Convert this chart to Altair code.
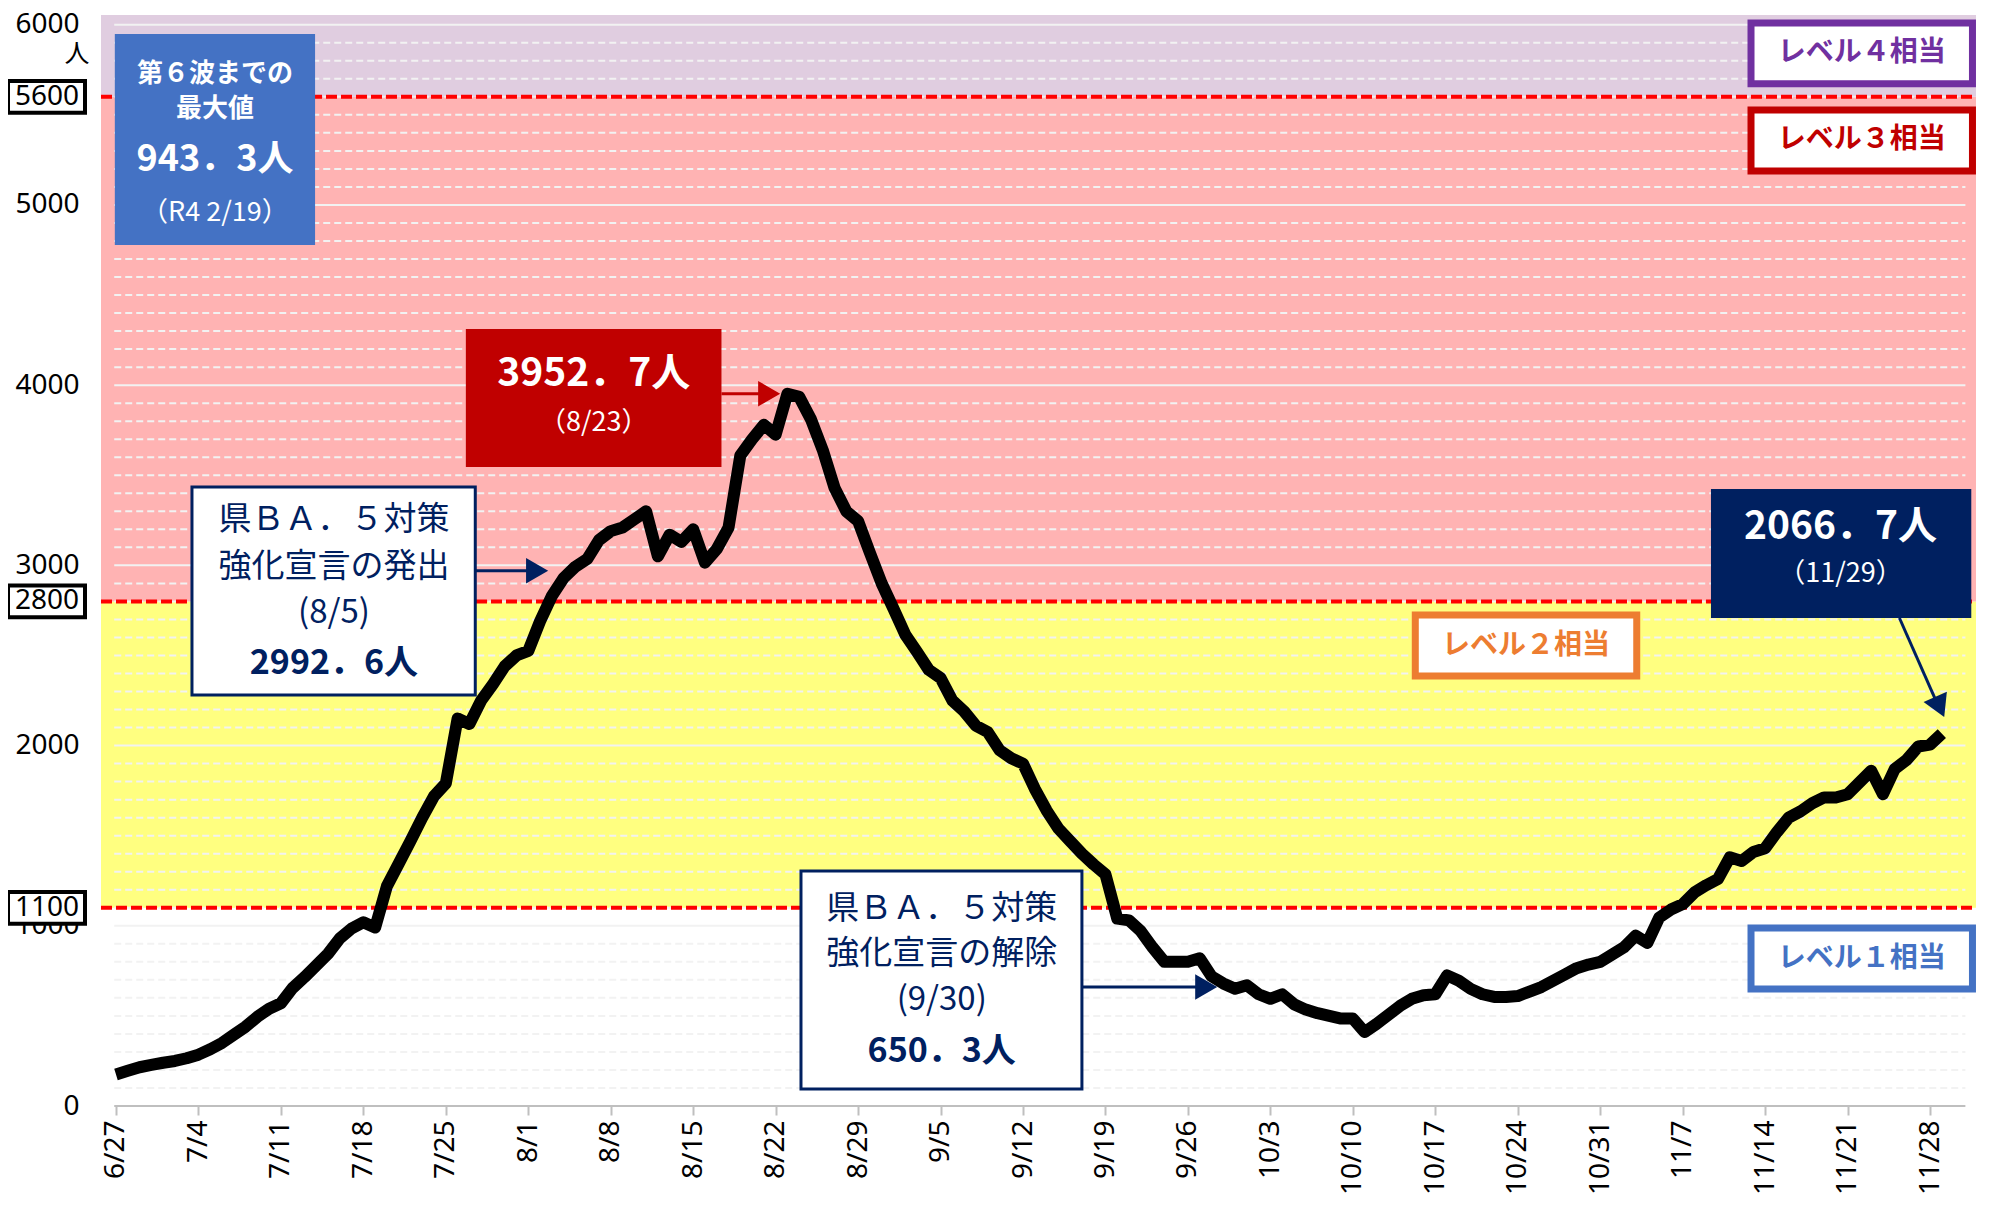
import json
import altair as alt
import pandas as pd

# ---------------- data ----------------
tick_labels = ["6/27", "7/4", "7/11", "7/18", "7/25", "8/1", "8/8", "8/15", "8/22",
               "8/29", "9/5", "9/12", "9/19", "9/26", "10/3", "10/10", "10/17",
               "10/24", "10/31", "11/7", "11/14", "11/21", "11/28"]

# 7-day average of new cases, one value per day from 6/27 (day 0) to 11/29 (day 155)
values = [
    175, 195, 215, 228, 240, 250, 265, 285, 315, 350,
    395, 440, 495, 540, 570, 655, 715, 780, 845, 930,
    985, 1020, 990, 1220, 1345, 1470, 1600, 1720, 1790, 2150,
    2120, 2250, 2340, 2440, 2500, 2525, 2690, 2830, 2930, 2992.6,
    3035, 3140, 3190, 3210, 3255, 3300, 3050, 3170, 3130, 3200,
    3015, 3090, 3210, 3610, 3700, 3780, 3725, 3952.7, 3935, 3810,
    3640, 3430, 3300, 3245, 3070, 2900, 2760, 2616, 2520, 2420,
    2375, 2250, 2190, 2110, 2075, 1975, 1930, 1900, 1760, 1640,
    1540, 1470, 1400, 1340, 1285, 1040, 1030, 970, 880, 800,
    800, 800, 820, 720, 680, 650.3, 670, 620, 595, 620,
    565, 535, 515, 500, 485, 485, 410, 455, 505, 555,
    595, 615, 620, 725, 695, 650, 620, 605, 605, 610,
    635, 660, 695, 730, 765, 785, 800, 840, 880, 945,
    905, 1045, 1090, 1120, 1185, 1225, 1260, 1380, 1360, 1410,
    1430, 1520, 1600, 1635, 1680, 1712, 1712, 1730, 1795, 1860,
    1730, 1870, 1920, 1995, 2005, 2066.7,
]
days = list(range(len(values)))

Y_TOP = 6054
band_lo = [0, 1100, 2800, 5600]
band_hi = [1100, 2800, 5600, Y_TOP]
band_colors = ["#FFFFFF", "#FFFF80", "#FFB3B3", "#E0CDE0"]

level_lines = [1100, 2800, 5600]
y_tick_values = [0, 1000, 2000, 3000, 4000, 5000, 6000]

NAVY = "#002060"
DARKRED = "#C00000"

# annotation boxes (in data units: day, persons)
box_x0 = [-0.1, 29.7, 6.45, 58.15, 135.4, 138.8, 138.8, 110.3, 138.8]
box_x1 = [16.9, 51.4, 30.5, 82.0, 157.5, 157.6, 157.6, 129.1, 157.6]
box_y0 = [4778, 3546, 2281, 94, 2708, 5672, 5189, 2386, 649]
box_y1 = [5949, 4312, 3435, 1304, 3424, 6010, 5527, 2725, 988]
box_fill = ["#4472C4", DARKRED, "#FFFFFF", "#FFFFFF", NAVY,
            "#FFFFFF", "#FFFFFF", "#FFFFFF", "#FFFFFF"]
box_stroke = ["#4472C4", DARKRED, NAVY, NAVY, NAVY,
              "#7030A0", DARKRED, "#ED7D31", "#4472C4"]
box_sw = [0, 0, 3, 3, 0, 7, 7, 7, 7]

# Japanese texts (bold)
jb_text = ["第６波までの", "最大値", "レベル４相当", "レベル３相当", "レベル２相当", "レベル１相当"]
jb_x = [8.4, 8.4, 148.2, 148.2, 119.7, 148.2]
jb_y = [5725, 5530, 5841, 5358, 2555, 818]
jb_color = ["#FFFFFF", "#FFFFFF", "#7030A0", DARKRED, "#ED7D31", "#4472C4"]
jb_size = [26, 26, 28, 28, 28, 28]

# Japanese texts (regular)
jr_text = ["県ＢＡ．５対策", "強化宣言の発出", "(8/5)", "県ＢＡ．５対策", "強化宣言の解除", "(9/30)"]
jr_x = [18.5, 18.5, 18.5, 70.1, 70.1, 70.1]
jr_y = [3252, 2991, 2736, 1093, 843, 588]
jr_color = [NAVY] * 6
jr_size = [33, 33, 33, 33, 33, 33]

# number texts
nb_text = ["943．3人", "3952．7人", "2992．6人", "650．3人", "2066．7人"]
nb_x = [8.4, 40.55, 18.5, 70.1, 146.4]
nb_y = [5250, 4062, 2453, 300, 3213]
nb_color = ["#FFFFFF", "#FFFFFF", NAVY, NAVY, "#FFFFFF"]
nb_size = [36, 39, 34, 34, 39]

nr_text = ["（R4 2/19）", "（8/23）", "（11/29）"]
nr_x = [8.4, 40.55, 146.4]
nr_y = [4956, 3790, 2952]
nr_color = ["#FFFFFF", "#FFFFFF", "#FFFFFF"]
nr_size = [27, 27, 27]

# arrows
ar_x0 = [51.4, 30.5, 82.0, 151.4]
ar_x1 = [55.8, 36.0, 93.0, 154.9]
ar_y0 = [3952.7, 2970, 660, 2708]
ar_y1 = [3952.7, 2970, 660, 2190]
ar_color = [DARKRED, NAVY, NAVY, NAVY]
head_x = [55.45, 35.75, 92.55, 154.82]
head_y = [3952.7, 2970, 660, 2214]
head_angle = [90, 90, 90, 156]

# ---------------- scales / axes ----------------
W, H = 1875, 1091
xs = alt.Scale(domain=[-1.273, 157.9], nice=False, zero=False)
ys = alt.Scale(domain=[0, Y_TOP], nice=False, zero=False)

x_axis = alt.Axis(
    values=[7 * i for i in range(len(tick_labels))],
    labelExpr=f"{json.dumps(tick_labels)}[round(datum.value / 7)]",
    labelAngle=270, labelFontSize=28, labelColor="#000000", labelFont="Noto Sans",
    labelPadding=5, domain=False, ticks=True, tickColor="#BFBFBF", tickWidth=2,
    tickSize=9, grid=False, title=None, labelOverlap=False)
y_axis = alt.Axis(
    values=y_tick_values, format="d", labelFontSize=28, labelColor="#000000",
    labelFont="Noto Sans", labelPadding=22, domain=False, ticks=False, grid=False,
    title=None)


def xq(field):
    return alt.X(f"{field}:Q", scale=xs, axis=x_axis)


def yq(field):
    return alt.Y(f"{field}:Q", scale=ys, axis=y_axis)


# ---------------- layers ----------------
bands = alt.Chart(pd.DataFrame({"lo": band_lo, "hi": band_hi, "color": band_colors})).mark_rect().encode(
    x=alt.value(0), x2=alt.value(W), y=yq("lo"), y2=alt.Y2("hi"),
    fill=alt.Fill("color:N", scale=None))

minor_v = [v for v in range(100, 6001, 100) if v % 1000 != 0]
major_v = list(range(1000, 6001, 1000))
grid_minor = alt.Chart(pd.DataFrame({"v": minor_v, "x0": -0.15, "x1": 157.0})).mark_rule(
    color="#F2F2F2", strokeWidth=2, strokeDash=[7, 4]).encode(
    x=xq("x0"), x2=alt.X2("x1"), y=yq("v"))
grid_major = alt.Chart(pd.DataFrame({"v": major_v, "x0": -0.15, "x1": 157.0})).mark_rule(
    color="#F2F2F2", strokeWidth=2).encode(
    x=xq("x0"), x2=alt.X2("x1"), y=yq("v"))

red_lines = alt.Chart(pd.DataFrame({"v": level_lines})).mark_rule(
    color="#FF0000", strokeWidth=4, strokeDash=[11, 4]).encode(
    x=alt.value(0), x2=alt.value(W), y=yq("v"))

baseline = alt.Chart(pd.DataFrame({"v": [0], "x0": [-0.15], "x1": [157.0]})).mark_rule(
    color="#BFBFBF", strokeWidth=2).encode(x=xq("x0"), x2=alt.X2("x1"), y=yq("v"))

line = alt.Chart(pd.DataFrame({"day": days, "value": values})).mark_line(
    color="#000000", strokeWidth=12, strokeJoin="round", strokeCap="butt").encode(
    x=xq("day"), y=yq("value"))

boxes = alt.Chart(pd.DataFrame({
    "x0": box_x0, "x1": box_x1, "y0": box_y0, "y1": box_y1,
    "fill": box_fill, "stroke": box_stroke, "sw": box_sw})).mark_rect().encode(
    x=xq("x0"), x2=alt.X2("x1"), y=yq("y0"), y2=alt.Y2("y1"),
    fill=alt.Fill("fill:N", scale=None), stroke=alt.Stroke("stroke:N", scale=None),
    strokeWidth=alt.StrokeWidth("sw:Q", scale=None))


def text_layer(texts, xv, yv, colors, sizes, font, weight):
    df = pd.DataFrame({"t": texts, "x": xv, "y": yv, "c": colors, "s": sizes})
    return alt.Chart(df).mark_text(font=font, fontWeight=weight, align="center",
                                   baseline="middle").encode(
        x=xq("x"), y=yq("y"), text="t:N",
        color=alt.Color("c:N", scale=None), size=alt.Size("s:Q", scale=None))


CJK = "Noto Sans CJK JP"
t_jb = text_layer(jb_text, jb_x, jb_y, jb_color, jb_size, CJK, "bold")
t_jr = text_layer(jr_text, jr_x, jr_y, jr_color, jr_size, CJK, "normal")
t_nb = text_layer(nb_text, nb_x, nb_y, nb_color, nb_size, CJK, "bold")
t_nr = text_layer(nr_text, nr_x, nr_y, nr_color, nr_size, CJK, "normal")

arrows = alt.Chart(pd.DataFrame({
    "x0": ar_x0, "x1": ar_x1, "y0": ar_y0, "y1": ar_y1, "c": ar_color})).mark_rule(
    strokeWidth=3).encode(
    x=xq("x0"), x2=alt.X2("x1"), y=yq("y0"), y2=alt.Y2("y1"),
    color=alt.Color("c:N", scale=None))
heads = alt.Chart(pd.DataFrame({
    "x": head_x, "y": head_y, "a": head_angle, "c": ar_color})).mark_point(
    shape="triangle-up", filled=True, opacity=1, size=650, strokeWidth=0).encode(
    x=xq("x"), y=yq("y"), angle=alt.Angle("a:Q", scale=None),
    color=alt.Color("c:N", scale=None))

# boxed threshold labels on the y axis
lvl_df = pd.DataFrame({"v": level_lines, "lo": [v - 88 for v in level_lines],
                       "hi": [v + 88 for v in level_lines],
                       "t": [str(v) for v in level_lines]})
lvl_boxes = alt.Chart(lvl_df).mark_rect(fill="#FFFFFF", stroke="#000000", strokeWidth=4).encode(
    x=alt.value(-93), x2=alt.value(-16), y=yq("lo"), y2=alt.Y2("hi"))
lvl_text = alt.Chart(lvl_df).mark_text(font="Noto Sans", fontSize=28, align="center",
                                       baseline="middle", color="#000000").encode(
    x=alt.value(-54), y=yq("v"), text="t:N")
unit_text = alt.Chart(pd.DataFrame({"v": [5840], "t": ["人"]})).mark_text(
    font=CJK, fontSize=25, align="center", baseline="middle", color="#000000").encode(
    x=alt.value(-24), y=yq("v"), text="t:N")

chart = alt.layer(
    bands, grid_minor, grid_major, red_lines, baseline, line,
    boxes, t_jb, t_jr, t_nb, t_nr, arrows, heads,
    lvl_boxes, lvl_text, unit_text,
).properties(
    width=W, height=H,
    padding={"left": 93, "top": 7, "right": 0, "bottom": 96},
    autosize=alt.AutoSizeParams(type="none"),
    background="#FFFFFF",
).configure_view(stroke=None)

chart.save("out.html", embed_options={"renderer": "svg", "actions": False})
